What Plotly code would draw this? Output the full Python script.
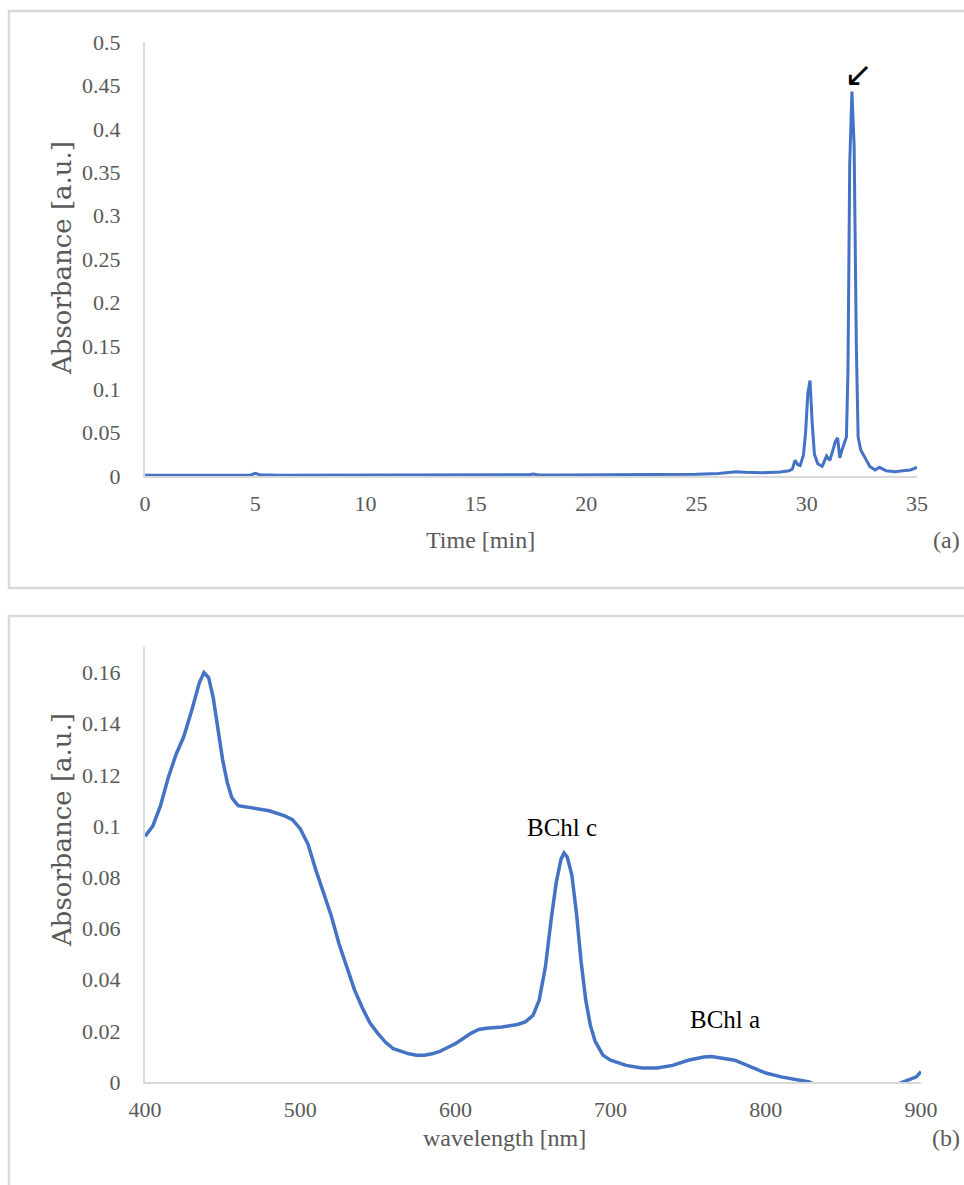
import plotly.graph_objects as go

# ---------------- data ----------------
time_min = [0, 2, 4, 4.8, 5.0, 5.2, 6, 8, 10, 12, 14, 16, 17.4, 17.6, 17.8, 19, 20, 22, 24, 25,
            26, 26.8, 27.2, 28, 28.8, 29.2, 29.35, 29.47, 29.6, 29.7, 29.85, 29.95, 30.05, 30.15,
            30.25, 30.35, 30.5, 30.7, 30.9, 31.05, 31.2, 31.3, 31.4, 31.5, 31.6, 31.73, 31.8,
            31.87, 31.95, 32.05, 32.15, 32.25, 32.33, 32.45, 32.63, 32.86, 33.1, 33.3, 33.6,
            34.0, 34.35, 34.7, 35.0]
absorb_a = [0.001, 0.001, 0.001, 0.0012, 0.003, 0.0015, 0.001, 0.001, 0.001, 0.001, 0.001, 0.0012,
            0.0015, 0.0022, 0.0015, 0.0012, 0.0012, 0.0013, 0.0018, 0.002,
            0.003, 0.005, 0.0042, 0.0038, 0.0045, 0.006, 0.008, 0.018, 0.013, 0.012, 0.024, 0.05,
            0.095, 0.11, 0.06, 0.025, 0.014, 0.011, 0.023, 0.018, 0.031, 0.04, 0.044, 0.021, 0.03,
            0.041, 0.045, 0.12, 0.36, 0.443, 0.38, 0.15, 0.045, 0.03, 0.021, 0.011, 0.007, 0.01,
            0.006, 0.005, 0.006, 0.007, 0.01]

wavelength_nm = [400, 405, 410, 415, 420, 425, 430, 435, 438, 441, 444, 447, 450, 453, 456, 460,
                 465, 470, 480, 490, 495, 500, 505, 510, 515, 520, 525, 530, 535, 540, 545, 550,
                 555, 560, 565, 570, 575, 580, 585, 590, 595, 600, 605, 610, 615, 620, 630, 640,
                 645, 650, 654, 658, 662, 665, 668, 670, 672, 675, 678, 681, 684, 687, 690, 695,
                 700, 710, 720, 730, 740, 750, 760, 765, 770, 780, 790, 800, 810, 820, 828, 835,
                 860, 880, 888, 893, 897, 900]
absorb_b = [0.096, 0.1, 0.108, 0.119, 0.128, 0.135, 0.145, 0.156, 0.16, 0.158, 0.15, 0.138, 0.126,
            0.117, 0.111, 0.108, 0.1075, 0.107, 0.106, 0.104, 0.1025, 0.099, 0.093, 0.083, 0.074,
            0.065, 0.054, 0.045, 0.036, 0.029, 0.023, 0.019, 0.0155, 0.013, 0.012, 0.011, 0.0105,
            0.0105, 0.011, 0.012, 0.0135, 0.015, 0.017, 0.019, 0.0205, 0.021, 0.0215, 0.0225,
            0.0235, 0.026, 0.032, 0.045, 0.065, 0.078, 0.087, 0.0895, 0.088, 0.081, 0.066, 0.047,
            0.032, 0.022, 0.016, 0.0105, 0.0085, 0.0065, 0.0055, 0.0055, 0.0065, 0.0085, 0.0098,
            0.01, 0.0095, 0.0085, 0.006, 0.0035, 0.002, 0.001, 0.0, -0.002, -0.004, -0.002, 0.0,
            0.001, 0.002, 0.004]

ticks_a_x = [0, 5, 10, 15, 20, 25, 30, 35]
ticks_a_y = [0, 0.05, 0.1, 0.15, 0.2, 0.25, 0.3, 0.35, 0.4, 0.45, 0.5]
ticklabels_a_y = ["0", "0.05", "0.1", "0.15", "0.2", "0.25", "0.3", "0.35", "0.4", "0.45", "0.5"]
ticks_b_x = [400, 500, 600, 700, 800, 900]
ticks_b_y = [0, 0.02, 0.04, 0.06, 0.08, 0.1, 0.12, 0.14, 0.16]
ticklabels_b_y = ["0", "0.02", "0.04", "0.06", "0.08", "0.1", "0.12", "0.14", "0.16"]

# ---------------- styling ----------------
BLUE = "#4472C4"
GRAY_TXT = "#595959"
GRAY_LINE = "#d9d9d9"
SERIF = "Liberation Serif"
W, H = 964, 1185

fig = go.Figure()
fig.add_trace(go.Scatter(x=time_min, y=absorb_a, mode="lines",
                         line=dict(color=BLUE, width=3), xaxis="x", yaxis="y",
                         showlegend=False, hoverinfo="skip"))
fig.add_trace(go.Scatter(x=wavelength_nm, y=absorb_b, mode="lines",
                         line=dict(color=BLUE, width=3.5), xaxis="x2", yaxis="y2",
                         showlegend=False, hoverinfo="skip"))

tickfont = dict(family=SERIF, size=22, color=GRAY_TXT)
common_x = dict(showgrid=False, zeroline=False, showline=True, linecolor=GRAY_LINE, linewidth=2,
                ticks="", tickfont=tickfont, ticklabelstandoff=7)
common_y = dict(showgrid=False, zeroline=False, showline=True, linecolor=GRAY_LINE, linewidth=2,
                ticks="", tickfont=tickfont, ticklabelstandoff=18)

def px_x(p):
    return p / W

def px_y(p):
    return 1 - p / H

fig.update_layout(
    width=W, height=H, autosize=False,
    margin=dict(l=0, r=0, t=0, b=0, pad=0, autoexpand=False),
    paper_bgcolor="white", plot_bgcolor="white",
    xaxis=dict(domain=[px_x(145), px_x(917)], range=[0, 35], tickvals=ticks_a_x,
               anchor="y", **common_x),
    yaxis=dict(domain=[px_y(476), px_y(42)], range=[0, 0.5], tickvals=ticks_a_y,
               ticktext=ticklabels_a_y, anchor="x", **common_y),
    xaxis2=dict(domain=[px_x(145), px_x(921)], range=[400, 900], tickvals=ticks_b_x,
                anchor="y2", **common_x),
    yaxis2=dict(domain=[px_y(1082), px_y(647)], range=[0, 0.17], tickvals=ticks_b_y,
                ticktext=ticklabels_b_y, anchor="x2", **common_y),
)

# panel frames
fig.add_shape(type="rect", xref="paper", yref="paper",
              x0=px_x(9), x1=px_x(975), y0=px_y(588), y1=px_y(11),
              line=dict(color=GRAY_LINE, width=2.5), layer="below")
fig.add_shape(type="rect", xref="paper", yref="paper",
              x0=px_x(9), x1=px_x(975), y0=px_y(1200), y1=px_y(616),
              line=dict(color=GRAY_LINE, width=2.5), layer="below")

title_font = dict(family=SERIF, size=24, color=GRAY_TXT)
annots = [
    dict(text="Time [min]", x=px_x(480), y=px_y(540)),
    dict(text="(a)", x=px_x(946), y=px_y(540)),
    dict(text="wavelength [nm]", x=px_x(504), y=px_y(1138)),
    dict(text="(b)", x=px_x(946), y=px_y(1138)),
]
for a in annots:
    fig.add_annotation(xref="paper", yref="paper", showarrow=False, font=title_font,
                       xanchor="center", yanchor="middle", **a)
ytitle_font = dict(family="DejaVu Serif", size=26, color=GRAY_TXT)
for yc in (258, 830):
    fig.add_annotation(text="Absorbance [a.u.]", x=px_x(62), y=px_y(yc), textangle=-90,
                       xref="paper", yref="paper", showarrow=False, font=ytitle_font,
                       xanchor="center", yanchor="middle")

label_font = dict(family=SERIF, size=25, color="black")
fig.add_annotation(text="BChl c", x=669, y=0.0994, xref="x2", yref="y2", showarrow=False,
                   font=label_font, xanchor="center", yanchor="middle")
fig.add_annotation(text="BChl a", x=773.7, y=0.0243, xref="x2", yref="y2", showarrow=False,
                   font=label_font, xanchor="center", yanchor="middle")
fig.add_annotation(text="↙", x=32.37, y=0.463, xref="x", yref="y", showarrow=False,
                   font=dict(family="DejaVu Sans", size=34, color="black"),
                   xanchor="center", yanchor="middle")

fig.write_html("out.html")
